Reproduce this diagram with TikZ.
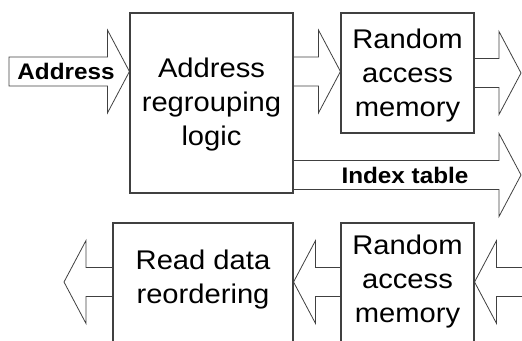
\documentclass[tikz,border=0pt]{standalone}
\usepackage{fontspec}
\setmainfont{Liberation Sans}[FakeStretch=1.08]
\usepackage{tikz}
\usetikzlibrary{calc}

\tikzset{
  unit/.style={draw=black!75, line width=1.1pt, inner sep=0pt},
  fat/.style={draw=black!75, line width=.8pt, line join=miter},
  blocktext/.style={align=center, font=\fontsize{27}{34}\selectfont},
  tagtext/.style={font=\fontsize{22.5}{26}\selectfont\bfseries},
}

% hollow block arrow from #1 (tail) to #2 (tip)
\newcommand{\fatarrow}[2]{%
  \draw[fat] ($(#1)!14.5pt!90:(#2)$)
    -- ($(#2)!22pt!(#1)!14.5pt!90:(#2)$)
    -- ($(#2)!22pt!(#1)!41.5pt!90:(#2)$)
    -- (#2)
    -- ($(#2)!22pt!(#1)!41.5pt!-90:(#2)$)
    -- ($(#2)!22pt!(#1)!14.5pt!-90:(#2)$)
    -- ($(#1)!14.5pt!-90:(#2)$) -- cycle;}

\begin{document}
\begin{tikzpicture}[x=1pt, y=-1pt]
    \useasboundingbox (0,0) rectangle (522,340);

    % write path blocks
    \node[unit, minimum width=163pt, minimum height=180pt] (regroup) at (211.5,103) {};
    \node[unit, minimum width=133pt, minimum height=120pt] (ramtop) at (407.5,73) {};
    \node[blocktext] (regrouptext) at (211.5,105) {Address\\regrouping\\logic};
    \node[blocktext] (ramtoptext) at (407.5,76) {Random\\access\\memory};

    % read path blocks (run off the bottom edge)
    \node[unit, minimum width=180pt, minimum height=130pt] (reorder) at (203,288) {};
    \node[unit, minimum width=133pt, minimum height=130pt] (rambot) at (407.5,288) {};
    \node[blocktext] (reordertext) at (203,280) {Read data\\reordering};
    \node[blocktext] (rambottext) at (407.5,282) {Random\\access\\memory};

    % arrow end points
    \coordinate (addrin) at (9,71.5);
    \coordinate (addrtip) at (regroup.west |- addrin);
    \coordinate (wrtail) at (regroup.east |- addrin);
    \coordinate (wrtip) at (ramtop.west |- addrin);
    \coordinate (outtail) at (ramtop.east |- 0,73);
    \coordinate (outtip) at (521,73);
    \coordinate (idxtail) at (regroup.east |- 0,175);
    \coordinate (idxtip) at (521,175);
    \coordinate (rdin) at (532,282);
    \coordinate (rdtip) at (rambot.east |- rdin);
    \coordinate (mtail) at (rambot.west |- rdin);
    \coordinate (mtip) at (reorder.east |- rdin);
    \coordinate (rotail) at (reorder.west |- rdin);
    \coordinate (rotip) at (64,282);

    % block arrows
    \fatarrow{addrin}{addrtip}
    \fatarrow{wrtail}{wrtip}
    \fatarrow{outtail}{outtip}
    \fatarrow{idxtail}{idxtip}
    \fatarrow{rdin}{rdtip}
    \fatarrow{mtail}{mtip}
    \fatarrow{rotail}{rotip}

    % arrow labels
    \node[tagtext] (addrlabel) at (66,71.5) {Address};
    \node[tagtext] (idxlabel) at (405,175) {Index table};
\end{tikzpicture}
\end{document}
